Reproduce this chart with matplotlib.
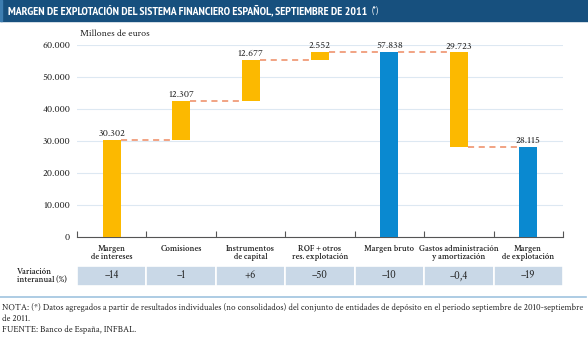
import matplotlib
matplotlib.use('Agg')
import matplotlib.pyplot as plt
from matplotlib.patches import Rectangle
from matplotlib.lines import Line2D
from matplotlib.ticker import FuncFormatter

# datos (millones de euros)
categorias = ['Margen\nde intereses', 'Comisiones', 'Instrumentos\nde capital',
              'ROF + otros\nres. explotación', 'Margen bruto',
              'Gastos administración\ny amortización', 'Margen\nde explotación']
importes = [30302, 12307, 12677, 2552, 57838, -29723, 28115]
es_total = [False, False, False, False, True, False, True]
etiquetas = ['30.302', '12.307', '12.677', '2.552', '57.838', '29.723', '28.115']
variacion = ['\u201314', '\u20131', '+6', '\u201350', '\u201310', '\u20130,4', '\u201319']

NARANJA = '#fcb900'
AZUL = '#0a89d0'
AZUL_TITULO = '#17507e'
CELDA = '#c9d8e7'
GUIONES = '#ee8a62'
SERIF = ['Crimson Text', 'Liberation Serif', 'DejaVu Serif']
TITULO = ['PT Sans Narrow', 'Roboto Condensed', 'DejaVu Sans']
TXT = '#222222'

plt.rcParams['font.family'] = SERIF

W, H = 588, 338
fig = plt.figure(figsize=(W / 100, H / 100), dpi=100)

def fx(px):
    return px / W

def fy(py):
    return 1 - py / H

# barra del titulo
fig.add_artist(Rectangle((0, fy(21)), 1, 21 / H, transform=fig.transFigure,
                         color=AZUL_TITULO, zorder=0))
fig.add_artist(Rectangle((0, fy(21)), fx(2), 21 / H, transform=fig.transFigure,
                         color='#3d7db0', zorder=1))
t = fig.text(fx(8), fy(11), 'MARGEN DE EXPLOTACIÓN DEL SISTEMA FINANCIERO ESPAÑOL, SEPTIEMBRE DE 2011',
             color='white', fontsize=8.5, fontweight='bold', va='center', family=TITULO)
fig.canvas.draw()
bb = t.get_window_extent()
fig.text(bb.x1 / W + fx(4), fy(11), '(*)', color='white', fontsize=6.5,
         va='center', family=TITULO)

# grafico principal
ax = fig.add_axes([fx(77), fy(237), fx(563 - 77), (237 - 45) / H])
x = list(range(len(categorias)))
ancho = 0.26

base = []
nivel = 0
for v, tot in zip(importes, es_total):
    if tot:
        base.append(0)
        nivel = v
    else:
        base.append(nivel if v >= 0 else nivel + v)
        nivel += v
alturas = [abs(v) for v in importes]
colores = [AZUL if tot else NARANJA for tot in es_total]
ax.bar(x, alturas, bottom=base, width=ancho, color=colores, zorder=3)

# etiquetas de valor
for i in x:
    tope = base[i] + alturas[i]
    ax.text(i, tope + 500, etiquetas[i], ha='center', va='bottom', fontsize=7.5,
            color=TXT)

# conectores discontinuos
niveles = []
nivel = 0
for v, tot in zip(importes, es_total):
    nivel = v if tot else nivel + v
    niveles.append(nivel)
for i in range(len(x) - 1):
    ax.plot([i + ancho / 2, i + 1 - ancho / 2], [niveles[i], niveles[i]],
            color=GUIONES, lw=1.1, ls=(0, (4, 3)), zorder=2)

ax.set_xlim(-0.5, len(x) - 0.5)
ax.set_ylim(0, 60000)
ax.set_yticks(range(0, 60001, 10000))
ax.yaxis.set_major_formatter(FuncFormatter(lambda v, p: f'{int(v):,}'.replace(',', '.')))
ax.set_xticks([i - 0.5 for i in range(len(x) + 1)])
ax.set_xticklabels([])
ax.tick_params(axis='x', direction='in', length=4, color='#555555', width=0.8)
ax.tick_params(axis='y', length=0, pad=5, labelsize=7.5, labelcolor=TXT)
ax.grid(axis='y', color='#dde8f2', lw=0.8, zorder=0)
for s in ['left', 'top', 'right']:
    ax.spines[s].set_visible(False)
ax.spines['bottom'].set_color('#555555')
ax.spines['bottom'].set_linewidth(0.8)

ax.text(fx(80), fy(34), 'Millones de euros', transform=fig.transFigure,
        fontsize=7.2, va='center', color=TXT)

# etiquetas de categoria
for i, c in enumerate(categorias):
    ax.text(i, -8 / 192, c, transform=ax.get_xaxis_transform(), ha='center', va='top',
            fontsize=6.3, linespacing=0.95, color=TXT, fontweight='semibold')

# fila de variacion interanual
tab = fig.add_axes([fx(77), fy(286), fx(563 - 77), 20 / H])
tab.bar(x, [1] * len(x), width=1, color=CELDA, edgecolor='white', lw=1.2)
for i, v in enumerate(variacion):
    tab.text(i, 0.5, v, ha='center', va='center', fontsize=7.8, color=TXT)
tab.set_xlim(-0.5, len(x) - 0.5)
tab.set_ylim(0, 1)
tab.axis('off')
fig.text(fx(17), fy(276), 'Variación\ninteranual (%)', fontsize=6.3, fontweight='semibold',
         va='center', ha='left', linespacing=0.95, color=TXT)

# separador y notas
fig.add_artist(Line2D([0, fx(586)], [fy(297), fy(297)], transform=fig.transFigure,
                      color='#9fc3df', lw=1.2))
nota = fig.text(fx(2), fy(308), 'NOTA: (*) Datos agregados a partir de resultados individuales (no consolidados) '
                'del conjunto de entidades de depósito en el periodo septiembre de 2010-septiembre',
                fontsize=6.55, va='center', color=TXT)
fig.text(fx(2), fy(319), 'de 2011.', fontsize=6.55, va='center', color=TXT)
fig.text(fx(2), fy(330), 'FUENTE: Banco de España, INFBAL.', fontsize=6.55, va='center',
         color=TXT)

fig.savefig('out.png', dpi=100)
